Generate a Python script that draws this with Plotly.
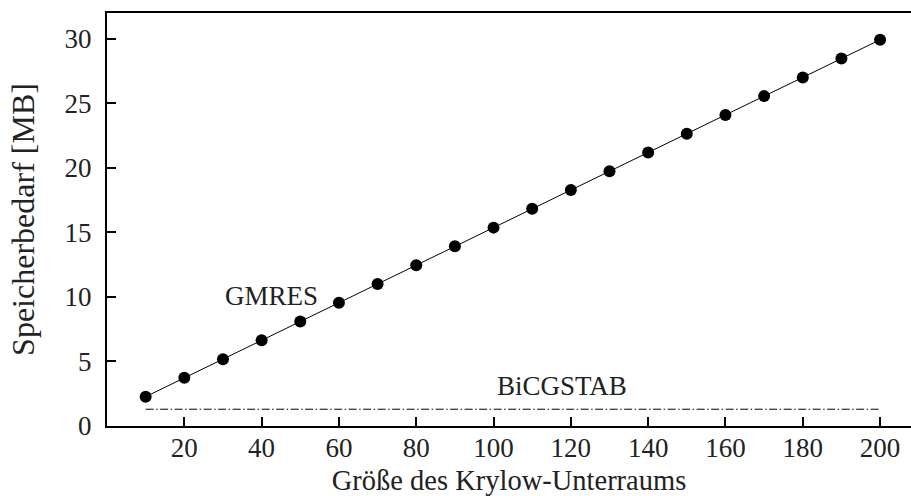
import plotly.graph_objects as go

# Data
krylow_size = [10, 20, 30, 40, 50, 60, 70, 80, 90, 100,
               110, 120, 130, 140, 150, 160, 170, 180, 190, 200]
gmres_mb = [2.27, 3.73, 5.18, 6.64, 8.09, 9.55, 11.0, 12.46, 13.92, 15.37,
            16.83, 18.28, 19.74, 21.19, 22.65, 24.1, 25.56, 27.01, 28.47, 29.93]
bicgstab_x = [10, 200]
bicgstab_mb = [1.3, 1.3]

x_ticks = [20, 40, 60, 80, 100, 120, 140, 160, 180, 200]
y_ticks = [0, 5, 10, 15, 20, 25, 30]

FONT = "Liberation Serif, Times New Roman, serif"

fig = go.Figure()

fig.add_trace(go.Scatter(
    x=bicgstab_x, y=bicgstab_mb, mode="lines",
    line=dict(color="black", width=1, dash="8px,2.5px,1.5px,2.5px"),
    showlegend=False, hoverinfo="skip"))

fig.add_trace(go.Scatter(
    x=krylow_size, y=gmres_mb, mode="lines+markers",
    line=dict(color="black", width=1),
    marker=dict(color="black", size=12),
    showlegend=False))

fig.add_annotation(x=42.6, y=10.06, text="GMRES", showarrow=False,
                   font=dict(family=FONT, size=27, color="#222"))
fig.add_annotation(x=117.7, y=3.1, text="BiCGSTAB", showarrow=False,
                   font=dict(family=FONT, size=27, color="#222"))

fig.update_layout(
    template="none",
    width=911, height=496,
    margin=dict(l=107, r=0, t=13, b=70),
    paper_bgcolor="white", plot_bgcolor="white",
    font=dict(family=FONT, size=27, color="#222"),
    xaxis=dict(
        range=[0, 208], tickvals=x_ticks, ticktext=[str(v) for v in x_ticks],
        showline=True, linecolor="black", linewidth=2, mirror=True,
        ticks="inside", ticklen=9, tickwidth=1.5, tickcolor="black",
        showgrid=False, zeroline=False, ticklabelstandoff=-3,
        automargin=False,
        title=dict(text="Größe des Krylow-Unterraums", standoff=10,
                   font=dict(family=FONT, size=28.5)),
    ),
    yaxis=dict(
        range=[0, 32], tickvals=y_ticks, ticktext=[str(v) for v in y_ticks],
        showline=True, linecolor="black", linewidth=2,
        ticks="inside", ticklen=9, tickwidth=1.5, tickcolor="black",
        showgrid=False, zeroline=False, ticklabelstandoff=8,
        automargin=False,
        title=dict(text="Speicherbedarf [MB]", standoff=20,
                   font=dict(family=FONT, size=32)),
    ),
    yaxis2=dict(
        range=[0, 32], tickvals=y_ticks, overlaying="y", side="right",
        anchor="x", showline=False, showgrid=False, zeroline=False,
        ticks="inside", ticklen=2, tickwidth=1.5, tickcolor="black",
        showticklabels=False, automargin=False,
    ),
)

fig.write_html("out.html",
               config={"displayModeBar": False},
               post_script="document.body.style.margin='0';"
                           "document.body.style.overflow='hidden';")
